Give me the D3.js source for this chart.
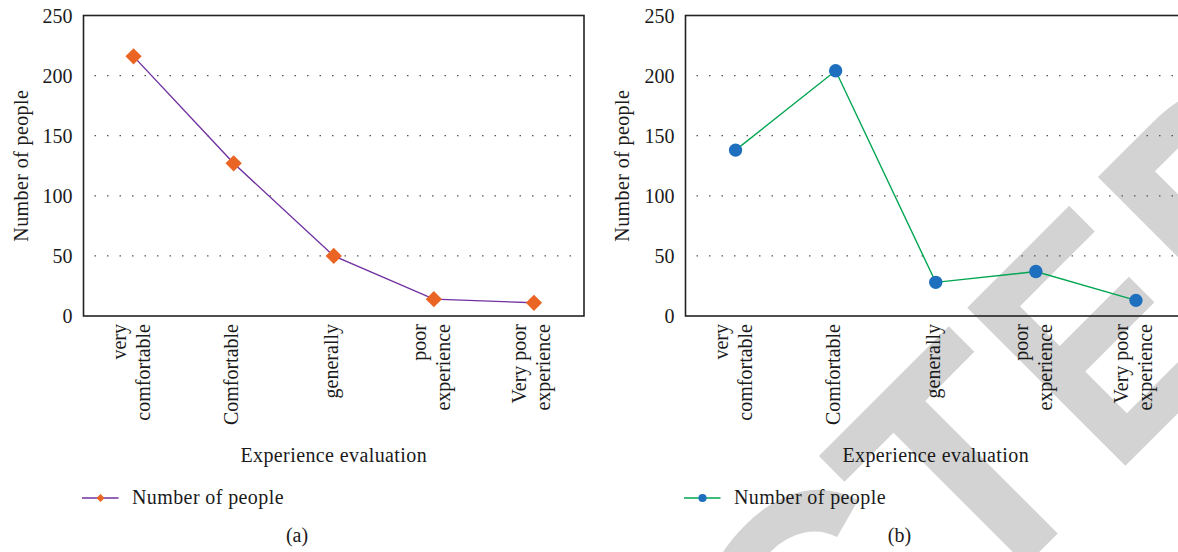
<!DOCTYPE html>
<html>
<head>
<meta charset="utf-8">
<script src="https://cdn.jsdelivr.net/npm/d3@7"></script>
<style>
  body { margin: 0; background: #fff; }
  svg { display: block; }
  .serif { font-family: "Liberation Serif", "Times New Roman", serif; fill: #1a1a1a; }
</style>
</head>
<body>
<svg id="chart" width="1178" height="552"></svg>
<script>
// Experience evaluation categories (each entry = the lines of its axis label)
const categories = [
  ["very", "comfortable"],
  ["Comfortable"],
  ["generally"],
  ["poor", "experience"],
  ["Very poor", "experience"]
];
const yTicks = [0, 50, 100, 150, 200, 250];
const gridTicks = [50, 100, 150, 200];

// Number of people per evaluation, two surveys
const seriesA = [216, 127, 50, 14, 11];
const seriesB = [138, 204, 28, 37, 13];

const seriesName = "Number of people";
const xTitle = "Experience evaluation";
const yTitle = "Number of people";
const panelLabels = ["(a)", "(b)"];
const watermarkText = "RETRACTED";

const svg = d3.select("#chart");
svg.append("rect").attr("width", 1178).attr("height", 552).attr("fill", "#fff");

// Large diagonal stamp behind the plots, one glyph at a time so each
// letter can be set at its own width along the rotated baseline.
const stamp = svg.append("g")
  .attr("transform", "translate(795.6,795.6) rotate(-45)");
const stampX = [-1089, -854, -638, -439, -204, 30.4, 253, 448.5, 630.5];
const stampSx = [1, 1, 1, 1, 1, 1, 0.96, 0.82, 0.95];
stamp.selectAll("text").data(watermarkText.split("")).join("text")
  .attr("transform", (d, i) => `translate(${stampX[i]},0) scale(${stampSx[i]},1)`)
  .attr("font-family", "Liberation Sans, Arial, sans-serif")
  .attr("font-weight", "bold")
  .attr("font-size", 325)
  .attr("fill", "#d3d3d3")
  .text(d => d);

const plotTop = 15.5, plotBottom = 316;
const fontSize = 20;

const panels = [
  { left: 83.5, right: 584, values: seriesA, lineColor: "#7030a0", markColor: "#ea6524",
    mark: "diamond", label: panelLabels[0], labelX: 297, yTitleX: 27.5 },
  { left: 685.5, right: 1186, values: seriesB, lineColor: "#00a651", markColor: "#1f6fbf",
    mark: "circle", label: panelLabels[1], labelX: 899.5, yTitleX: 628.5 }
];

const y = d3.scaleLinear().domain([0, 250]).range([plotBottom, plotTop]);

panels.forEach(p => {
  const g = svg.append("g");
  const x = d3.scaleBand().domain(d3.range(categories.length)).range([p.left, p.right]);
  const cx = i => x(i) + x.bandwidth() / 2;

  // dotted horizontal grid
  g.selectAll("line.grid").data(gridTicks).join("line")
    .attr("class", "grid")
    .attr("x1", p.left + 11).attr("x2", p.right - 4)
    .attr("y1", d => y(d)).attr("y2", d => y(d))
    .attr("stroke", "#555").attr("stroke-width", 1.3)
    .attr("stroke-dasharray", "1.5,11");

  // plot frame
  g.append("rect")
    .attr("x", p.left).attr("y", plotTop)
    .attr("width", p.right - p.left).attr("height", plotBottom - plotTop)
    .attr("fill", "none").attr("stroke", "#222").attr("stroke-width", 1.6);

  // y axis labels
  const ay = g.append("g").attr("transform", `translate(${p.left},0)`)
    .call(d3.axisLeft(y).tickValues(yTicks).tickSize(0).tickPadding(11));
  ay.select(".domain").remove();
  ay.attr("font-family", null).attr("font-size", null);
  ay.selectAll("text")
    .attr("class", "serif")
    .attr("font-size", fontSize)
    .attr("fill", "#1a1a1a")
    .attr("dy", "0.34em");

  // rotated category labels
  categories.forEach((lines, i) => {
    const t = g.append("text")
      .attr("class", "serif")
      .attr("font-size", fontSize)
      .attr("text-anchor", "end")
      .attr("transform", `translate(${cx(i)},324) rotate(-90)`);
    lines.forEach((ln, j) => {
      t.append("tspan")
        .attr("x", 0)
        .attr("y", (j - (lines.length - 1) / 2) * 24 + 4.5)
        .text(ln);
    });
  });

  // axis titles
  g.append("text").attr("class", "serif")
    .attr("font-size", fontSize).attr("letter-spacing", 0.4)
    .attr("text-anchor", "middle")
    .attr("x", (p.left + p.right) / 2).attr("y", 462)
    .text(xTitle);
  g.append("text").attr("class", "serif")
    .attr("font-size", fontSize).attr("letter-spacing", 0.4)
    .attr("text-anchor", "middle")
    .attr("transform", `translate(${p.yTitleX},${(plotTop + plotBottom) / 2}) rotate(-90)`)
    .text(yTitle);

  // series line
  const line = d3.line().x((d, i) => cx(i)).y(d => y(d));
  g.append("path").datum(p.values)
    .attr("d", line)
    .attr("fill", "none").attr("stroke", p.lineColor).attr("stroke-width", 1.4);

  // markers
  const sym = p.mark === "diamond"
    ? d3.symbol(d3.symbolSquare, 132)
    : d3.symbol(d3.symbolCircle, 140);
  g.selectAll("path.mk").data(p.values).join("path")
    .attr("class", "mk")
    .attr("d", sym)
    .attr("transform", (d, i) => `translate(${cx(i)},${y(d)})` + (p.mark === "diamond" ? " rotate(45)" : ""))
    .attr("fill", p.markColor);

  // legend
  const ly = 498;
  g.append("line")
    .attr("x1", p.left - 1.5).attr("x2", p.left + 35)
    .attr("y1", ly).attr("y2", ly)
    .attr("stroke", p.lineColor).attr("stroke-width", 1.4);
  const lsym = p.mark === "diamond"
    ? d3.symbol(d3.symbolSquare, 32)
    : d3.symbol(d3.symbolCircle, 52);
  g.append("path")
    .attr("d", lsym)
    .attr("transform", `translate(${p.left + 17},${ly})` + (p.mark === "diamond" ? " rotate(45)" : ""))
    .attr("fill", p.markColor);
  g.append("text").attr("class", "serif")
    .attr("font-size", fontSize).attr("letter-spacing", 0.4)
    .attr("x", p.left + 48.5).attr("y", 504)
    .text(seriesName);

  // panel label
  g.append("text").attr("class", "serif")
    .attr("font-size", fontSize)
    .attr("text-anchor", "middle")
    .attr("x", p.labelX).attr("y", 542)
    .text(p.label);
});
</script>
</body>
</html>
